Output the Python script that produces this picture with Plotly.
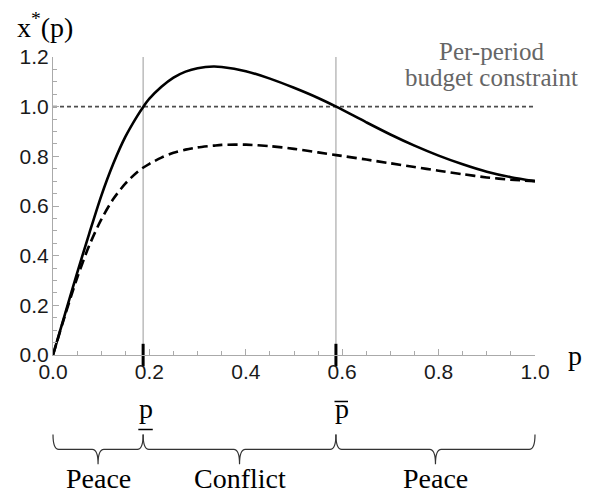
import plotly.graph_objects as go

# ---- data ----
p_vals = [0, 0.025, 0.05, 0.075, 0.1, 0.125, 0.15, 0.175, 0.1875, 0.2, 0.225, 0.25, 0.275,
          0.3, 0.333, 0.35, 0.4, 0.45, 0.5, 0.55, 0.5875, 0.65, 0.7, 0.75, 0.8, 0.85, 0.9,
          0.95, 1.0]
x_star_solid = [0, 0.166, 0.33, 0.488, 0.64, 0.77, 0.878, 0.963, 1.0, 1.032, 1.08, 1.117,
                1.141, 1.155, 1.162, 1.16, 1.143, 1.113, 1.076, 1.035, 1.0, 0.937, 0.888,
                0.843, 0.803, 0.768, 0.738, 0.716, 0.70]
x_star_dashed = [0, 0.16, 0.31, 0.44, 0.545, 0.628, 0.69, 0.737, 0.755, 0.77, 0.795, 0.814,
                 0.827, 0.836, 0.843, 0.846, 0.847, 0.841, 0.83, 0.816, 0.805, 0.787,
                 0.772, 0.757, 0.742, 0.728, 0.715, 0.706, 0.70]
budget_p = [0, 1]
budget_val = [1.0, 1.0]
p_low = 0.187
p_high = 0.587
tick_vals = [0, 0.2, 0.4, 0.6, 0.8, 1.0, 1.2]
regions = [("Peace", 0, p_low), ("Conflict", p_low, p_high), ("Peace", p_high, 1.0)]

SERIF = "Liberation Serif, Times New Roman, serif"
SANS = "Liberation Sans, Arial, sans-serif"

fig = go.Figure()

fig.add_trace(go.Scatter(x=budget_p, y=budget_val, mode="lines",
                         line=dict(color="#4d4d4d", width=1.9, dash="4px,3px"),
                         hoverinfo="skip", showlegend=False))
fig.add_trace(go.Scatter(x=p_vals, y=x_star_dashed, mode="lines", line_shape="spline",
                         line=dict(color="black", width=2.6, dash="10px,5px", smoothing=0.8),
                         showlegend=False))
fig.add_trace(go.Scatter(x=p_vals, y=x_star_solid, mode="lines", line_shape="spline",
                         line=dict(color="black", width=2.6, smoothing=0.8),
                         showlegend=False))
# thick marks at the thresholds on the p axis
fig.add_trace(go.Scatter(x=[p_low, p_high], y=[0, 0], mode="markers", cliponaxis=False,
                         marker=dict(symbol="line-ns", size=16,
                                     line=dict(color="black", width=3)),
                         hoverinfo="skip", showlegend=False))

shapes = []
for pv in (p_low, p_high):
    shapes.append(dict(type="line", xref="x", yref="paper", x0=pv, x1=pv, y0=0, y1=1,
                       line=dict(color="#aaaaaa", width=1.2), layer="below"))

# under / over bars of the threshold labels
shapes.append(dict(type="line", xref="x", yref="paper", x0=p_low - 0.01, x1=p_low + 0.02,
                   y0=-0.25, y1=-0.25, line=dict(color="black", width=1.5)))
shapes.append(dict(type="line", xref="x", yref="paper", x0=p_high - 0.003, x1=p_high + 0.025,
                   y0=-0.156, y1=-0.156, line=dict(color="black", width=1.5)))

# braces (x range is [0,1] so paper x equals p)
tip, mid, pt = -0.267, -0.317, -0.367
r = 0.012
for _, a, b in regions:
    m = (a + b) / 2
    path = (f"M {a},{tip} Q {a},{mid} {a + r},{mid} L {m - r},{mid} "
            f"Q {m},{mid} {m},{pt} Q {m},{mid} {m + r},{mid} L {b - r},{mid} "
            f"Q {b},{mid} {b},{tip}")
    shapes.append(dict(type="path", xref="paper", yref="paper", path=path,
                       line=dict(color="#333333", width=1.2)))

annotations = [
    dict(text="x<sup>*</sup>(p)", xref="paper", yref="paper", x=-0.078, y=1.105,
         xanchor="left", yanchor="middle", showarrow=False,
         font=dict(family=SERIF, size=28, color="black")),
    dict(text="p", xref="paper", yref="paper", x=1.082, y=0.0, xanchor="center",
         yanchor="middle", showarrow=False, font=dict(family=SERIF, size=28, color="black")),
    dict(text="Per-period", xref="paper", yref="paper", x=0.91, y=1.017,
         xanchor="center", yanchor="middle", showarrow=False,
         font=dict(family=SERIF, size=25, color="#666666")),
    dict(text="budget constraint", xref="paper", yref="paper", x=0.91, y=0.93,
         xanchor="center", yanchor="middle", showarrow=False,
         font=dict(family=SERIF, size=25, color="#666666")),
    dict(text="p", xref="x", yref="paper", x=p_low + 0.006, y=-0.18,
         xanchor="center", yanchor="middle", showarrow=False,
         font=dict(family=SERIF, size=28, color="black")),
    dict(text="p", xref="x", yref="paper", x=p_high + 0.012, y=-0.18,
         xanchor="center", yanchor="middle", showarrow=False,
         font=dict(family=SERIF, size=28, color="black")),
]
for name, a, b in regions:
    annotations.append(dict(text=name, xref="paper", yref="paper", x=(a + b) / 2,
                            y=-0.413, xanchor="center", yanchor="middle", showarrow=False,
                            font=dict(family=SERIF, size=28, color="black")))

axis_common = dict(showline=True, linecolor="#aaaaaa", linewidth=1.2, showgrid=False,
                   zeroline=False, ticks="inside", ticklen=6, tickcolor="#aaaaaa",
                   tickwidth=1, tickformat=".1f",
                   tickfont=dict(family=SANS, size=21, color="#1a1a1a"),
                   minor=dict(ticks="inside", ticklen=4, dtick=0.05, tickcolor="#aaaaaa",
                              tickwidth=1))

# the page body has an 8px margin, so the figure is sized to fit the window
fig.update_layout(
    width=582, height=488,
    margin=dict(l=45, r=55, t=49, b=141),
    paper_bgcolor="white", plot_bgcolor="white",
    xaxis=dict(range=[0, 1], tickvals=tick_vals[:6], ticklabelstandoff=-2, **axis_common),
    yaxis=dict(range=[0, 1.2], tickvals=tick_vals, ticklabelstandoff=-1, **axis_common),
    shapes=shapes, annotations=annotations,
)

fig.write_html("out.html")
